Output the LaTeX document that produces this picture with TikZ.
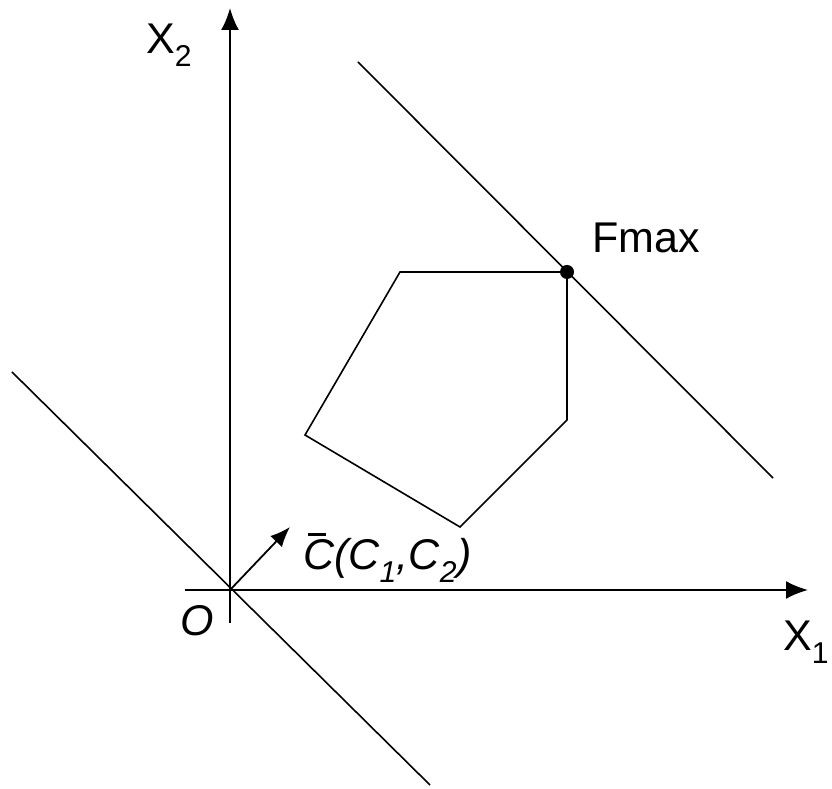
\documentclass[tikz,border=0pt]{standalone}
\usepackage{fontspec}
\setmainfont{Liberation Sans}
\usetikzlibrary{arrows.meta}

\begin{document}
\begin{tikzpicture}[
    x=1pt, y=1pt,
    axis/.style={draw, line width=2pt, -{Latex[length=22pt,width=18pt]}},
    edge/.style={draw, line width=1.6pt},
    level/.style={draw, line width=1.6pt},
    vect/.style={draw, line width=1.8pt, -{Latex[length=20pt,width=16pt]}},
    dot/.style={circle, fill, inner sep=0pt, minimum size=14pt},
    every node/.style={font=\fontsize{43}{47}\selectfont, inner sep=0pt}
]
\useasboundingbox (0,0) rectangle (832,789);

\coordinate (O) at (230,199);

% axes
\coordinate (xl) at (185,199);
\coordinate (xr) at (808,199);
\coordinate (yb) at (230,166);
\coordinate (yt) at (230,781);
\draw[axis] (xl) -- (xr);
\draw[axis] (yb) -- (yt);

\node[anchor=base west] (x1) at (783,138) {X\textsubscript{1}};
\node[anchor=base west] (x2) at (146,735) {X\textsubscript{2}};
\node (o) at (197,168) {\itshape O};

% level lines
\coordinate (l1a) at (12,417);
\coordinate (l1b) at (430,4);
\coordinate (l2a) at (358,727);
\coordinate (l2b) at (773,311);
\draw[level] (l1a) -- (l1b);
\draw[level] (l2a) -- (l2b);

% feasible region
\coordinate (p1) at (400,517);
\coordinate (p2) at (567,517);
\coordinate (p3) at (567,369);
\coordinate (p4) at (460,262);
\coordinate (p5) at (305,354);
\draw[edge] (p1) -- (p2) -- (p3) -- (p4) -- (p5) -- cycle;

\node[dot] (fm) at (p2) {};
\node[anchor=base west] (fmax) at (592,536) {Fmax};

% gradient vector
\coordinate (ct) at (290,262);
\draw[vect] (O) -- (ct);
\node[anchor=base west] (c) at (303,219)
  {\itshape\makebox[0pt][l]{\hspace{0.12em}\raisebox{0.78em}{\rule{0.42em}{0.07em}}}C(C\textsubscript{1},C\textsubscript{2})};

\end{tikzpicture}
\end{document}
